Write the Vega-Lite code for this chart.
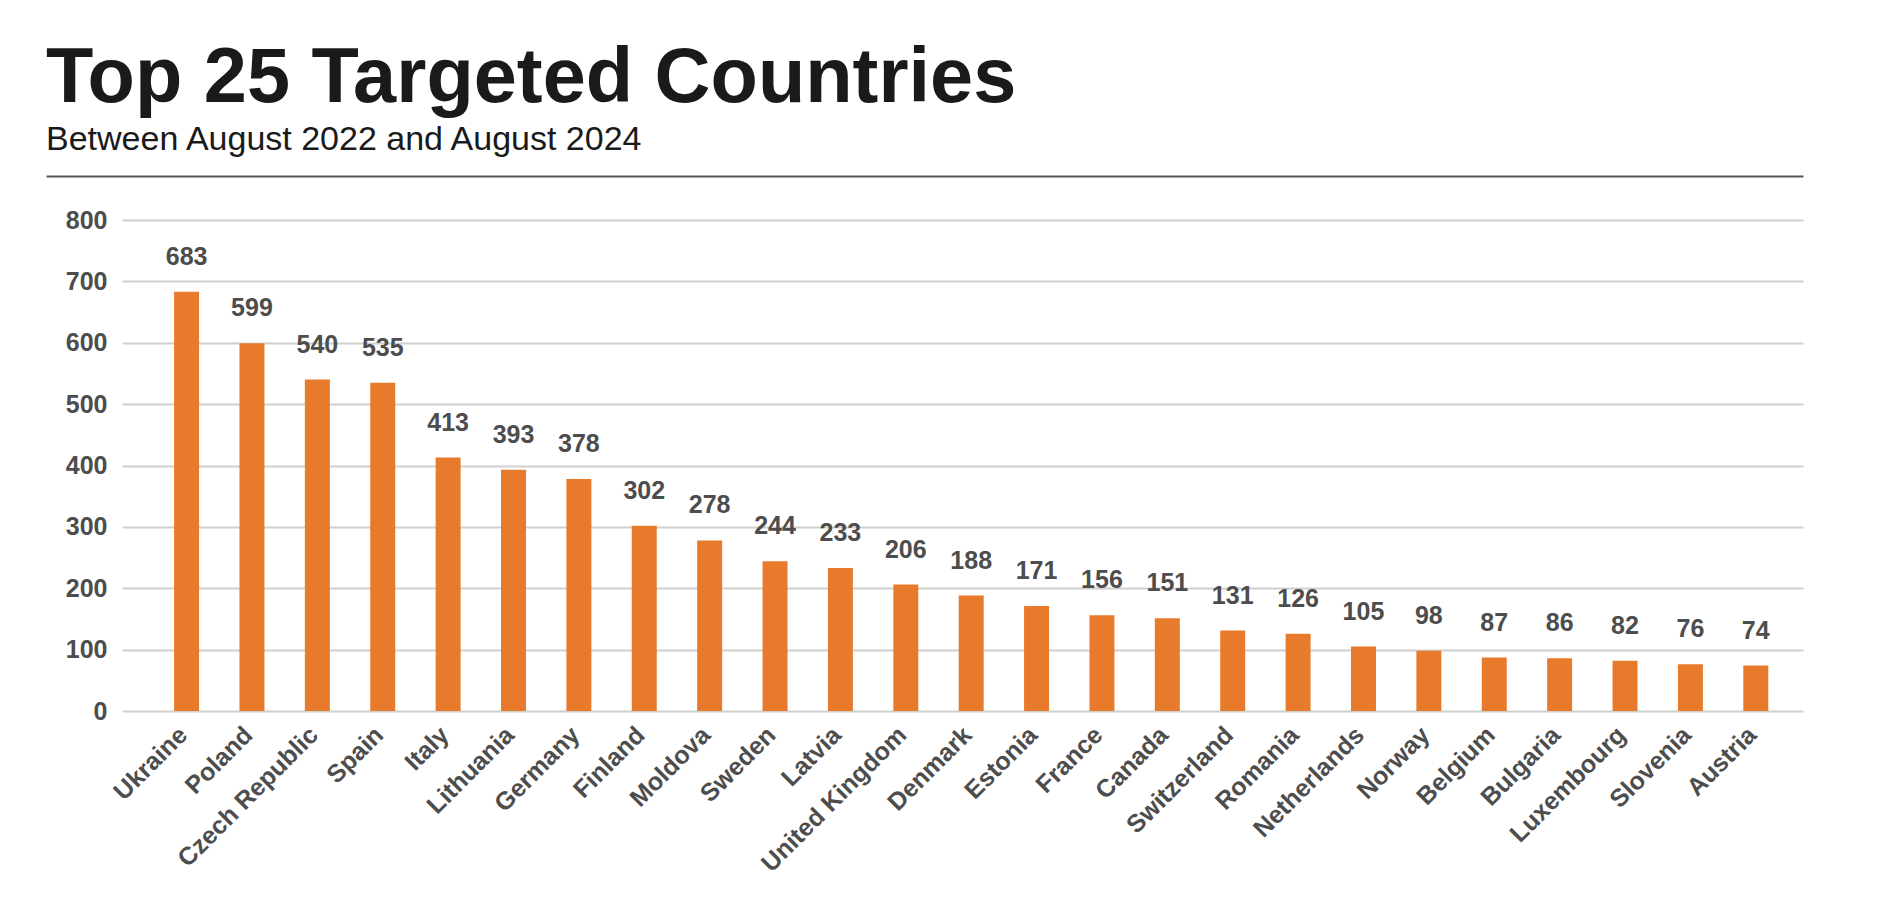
{
  "$schema": "https://vega.github.io/schema/vega-lite/v6.json",
  "autosize": "none",
  "width": 1681,
  "height": 491,
  "padding": {"left": 122, "top": 220, "right": 97, "bottom": 197},
  "background": "white",
  "config": {"view": {"stroke": null}},
  "title": {
    "text": "Top 25 Targeted Countries",
    "subtitle": "Between August 2022 and August 2024",
    "anchor": "start",
    "frame": "group",
    "dx": -76,
    "offset": 18,
    "font": "Liberation Sans",
    "fontSize": 77.5,
    "fontWeight": "bold",
    "color": "#1a1a1a",
    "subtitleFont": "Liberation Sans",
    "subtitleFontSize": 34,
    "subtitleColor": "#1a1a1a",
    "subtitlePadding": 5
  },
  "data": {
    "values": [
      {"country": "Ukraine", "count": 683},
      {"country": "Poland", "count": 599},
      {"country": "Czech Republic", "count": 540},
      {"country": "Spain", "count": 535},
      {"country": "Italy", "count": 413},
      {"country": "Lithuania", "count": 393},
      {"country": "Germany", "count": 378},
      {"country": "Finland", "count": 302},
      {"country": "Moldova", "count": 278},
      {"country": "Sweden", "count": 244},
      {"country": "Latvia", "count": 233},
      {"country": "United Kingdom", "count": 206},
      {"country": "Denmark", "count": 188},
      {"country": "Estonia", "count": 171},
      {"country": "France", "count": 156},
      {"country": "Canada", "count": 151},
      {"country": "Switzerland", "count": 131},
      {"country": "Romania", "count": 126},
      {"country": "Netherlands", "count": 105},
      {"country": "Norway", "count": 98},
      {"country": "Belgium", "count": 87},
      {"country": "Bulgaria", "count": 86},
      {"country": "Luxembourg", "count": 82},
      {"country": "Slovenia", "count": 76},
      {"country": "Austria", "count": 74}
    ]
  },
  "layer": [
    {
      "mark": {"type": "bar", "color": "#E87A2C"},
      "encoding": {
        "x": {
          "field": "country",
          "type": "nominal",
          "sort": null,
          "scale": {"type": "band", "paddingInner": 0.618, "paddingOuter": 0.664, "align": 0.6},
          "axis": {
            "title": null,
            "domain": false,
            "ticks": false,
            "labelAngle": -45,
            "labelAlign": "right",
            "labelBaseline": "top",
            "labelPadding": 11,
            "labelOffset": -12,
            "labelFont": "Liberation Sans",
            "labelFontWeight": "bold",
            "labelFontSize": 25,
            "labelColor": "#4d4d4d",
            "labelOverlap": false,
            "labelLimit": 400
          }
        },
        "y": {
          "field": "count",
          "type": "quantitative",
          "scale": {"domain": [0, 800], "nice": false},
          "axis": {
            "title": null,
            "domain": false,
            "ticks": false,
            "values": [0, 100, 200, 300, 400, 500, 600, 700, 800],
            "grid": true,
            "gridColor": "#cfcfcb",
            "gridWidth": 2,
            "labelPadding": 15,
            "labelFont": "Liberation Sans",
            "labelFontWeight": "bold",
            "labelFontSize": 25,
            "labelColor": "#4d4d4d"
          }
        }
      }
    },
    {
      "mark": {
        "type": "text",
        "baseline": "alphabetic",
        "align": "center",
        "dy": -27,
        "font": "Liberation Sans",
        "fontWeight": "bold",
        "fontSize": 25,
        "color": "#4d4d4d"
      },
      "encoding": {
        "x": {
          "field": "country",
          "type": "nominal",
          "sort": null,
          "bandPosition": 0.5,
          "scale": {"type": "band", "paddingInner": 0.618, "paddingOuter": 0.664, "align": 0.6},
          "axis": null
        },
        "y": {"field": "count", "type": "quantitative", "axis": null},
        "text": {"field": "count", "type": "quantitative"}
      }
    },
    {
      "mark": {"type": "text", "opacity": 0},
      "encoding": {
        "x": {
          "field": "country",
          "type": "nominal",
          "sort": null,
          "scale": {"range": [-76, 1681]},
          "axis": {
            "orient": "top",
            "offset": 44,
            "title": null,
            "labels": false,
            "ticks": false,
            "grid": false,
            "domain": true,
            "domainColor": "#555555",
            "domainWidth": 2
          }
        },
        "text": {"value": ""}
      }
    }
  ],
  "resolve": {"scale": {"x": "independent"}, "axis": {"x": "independent", "y": "independent"}}
}
